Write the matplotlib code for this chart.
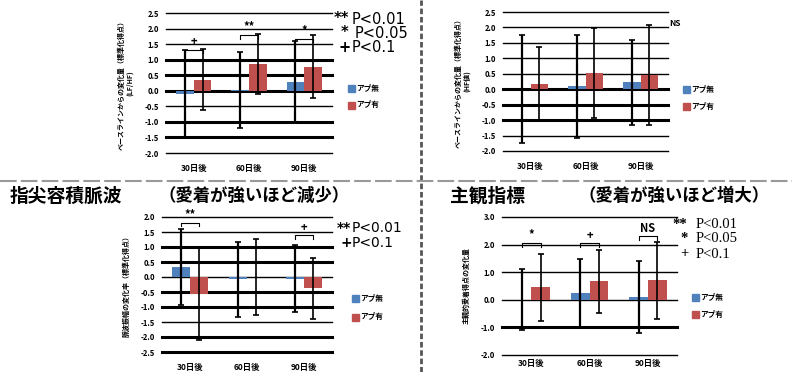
"""
Four-panel bar chart: change from baseline, app absent vs app present,
30/60/90 days. Saves out.png (792x372).
"""

import matplotlib
matplotlib.use("Agg")
import matplotlib.pyplot as plt
import numpy as np

plt.rcParams["font.family"] = ["Noto Sans CJK JP", "DejaVu Sans"]

W, H = 792, 372
BLUE = "#4F81BD"
RED = "#C0504D"

days = ["30日後", "60日後", "90日後"]
legend_labels = ["アプ無", "アプ有"]

# top-left panel
tl_none = [-0.10, 0.02, 0.29]
tl_none_err = [1.40, 1.22, 1.30]
tl_app = [0.35, 0.86, 0.78]
tl_app_err = [0.98, 0.97, 1.02]
tl_ticks = [-2.0, -1.5, -1.0, -0.5, 0.0, 0.5, 1.0, 1.5, 2.0, 2.5]
tl_sig = [(0, "+", 1.32), (1, "**", 1.78), (2, "*", 1.68)]

# top-right panel
tr_none = [0.00, 0.09, 0.22]
tr_none_err = [1.75, 1.66, 1.38]
tr_app = [0.18, 0.52, 0.47]
tr_app_err = [1.20, 1.46, 1.62]
tr_ticks = [-2.0, -1.5, -1.0, -0.5, 0.0, 0.5, 1.0, 1.5, 2.0, 2.5]

# bottom-left panel
bl_none = [0.33, -0.07, -0.05]
bl_none_err = [1.27, 1.25, 1.12]
bl_app = [-0.56, 0.00, -0.38]
bl_app_err = [1.55, 1.26, 1.02]
bl_ticks = [-2.5, -2.0, -1.5, -1.0, -0.5, 0.0, 0.5, 1.0, 1.5, 2.0]
bl_sig = [(0, "**", 1.80), (2, "+", 1.39)]

# bottom-right panel
br_none = [0.00, 0.24, 0.10]
br_none_err = [1.10, 1.23, 1.30]
br_app = [0.45, 0.67, 0.70]
br_app_err = [1.20, 1.14, 1.38]
br_ticks = [-2.0, -1.0, 0.0, 1.0, 2.0, 3.0]
br_sig = [(0, "*", 2.05), (1, "+", 2.05), (2, "NS", 2.30)]

fig = plt.figure(figsize=(W / 100, H / 100), dpi=100)


def px_axes(x0, y0, x1, y1):
    # pixel box (top-left origin) -> figure axes
    return fig.add_axes([x0 / W, 1 - y1 / H, (x1 - x0) / W, (y1 - y0) / H])


def panel(box, none, none_err, app, app_err, ticks, thick, sig, ylabel, xpad=8):
    ax = px_axes(*box)
    x = np.arange(len(days))
    w = 0.32
    for t in ticks:
        ax.axhline(t, color="black", lw=2.2 if t in thick else 1.0,
                   clip_on=False, zorder=1)
    ax.bar(x - w / 2, none, w, color=BLUE, zorder=2)
    ax.bar(x + w / 2, app, w, color=RED, zorder=2)
    ax.errorbar(x - w / 2, none, yerr=none_err, fmt="none", ecolor="black",
                elinewidth=1.6, capsize=2.5, capthick=1.2, zorder=3)
    ax.errorbar(x + w / 2, app, yerr=app_err, fmt="none", ecolor="black",
                elinewidth=1.2, capsize=2.5, capthick=1.2, zorder=3)
    ax.set_xlim(-0.5, 2.5)
    ax.set_ylim(ticks[0], ticks[-1])
    ax.set_yticks(ticks)
    ax.set_yticklabels([f"{t:.1f}" for t in ticks], fontsize=5.5,
                       fontweight="bold")
    ax.set_xticks(x)
    ax.set_xticklabels(days, fontsize=6, fontweight="bold")
    ax.tick_params(length=0, pad=5)
    ax.tick_params(axis="x", pad=xpad)
    for s in ax.spines.values():
        s.set_visible(False)
    span = ticks[-1] - ticks[0]
    for g, mark, h in sig:
        d = span * 0.025
        ax.plot([g - w / 2, g - w / 2, g + w / 2, g + w / 2],
                [h - d, h, h, h - d], color="black", lw=0.8, zorder=4,
                clip_on=False)
        ax.text(g, h + span * 0.012, mark, ha="center", va="bottom",
                fontsize=8, fontweight="bold", clip_on=False)
    ax.set_ylabel(ylabel, fontsize=5, fontweight="bold", labelpad=8)
    return ax


def legend(x, y0, y1):
    for yy, c, lab in [(y0, BLUE, legend_labels[0]), (y1, RED, legend_labels[1])]:
        fig.patches.append(plt.Rectangle((x / W, 1 - (yy + 3.5) / H), 7 / W, 7 / H,
                                         color=c, transform=fig.transFigure))
        fig.text((x + 8) / W, 1 - yy / H, lab, fontsize=5.5, fontweight="bold",
                 va="center")


def ptext(lines, family, size):
    for (xs, xp, y, star, label) in lines:
        fig.text(xs / W, 1 - y / H, star, fontsize=size, fontweight="bold",
                 va="center", ha="left", family=family)
        fig.text(xp / W, 1 - y / H, label, fontsize=size, va="center",
                 ha="left", family=family)


panel((166, 13, 332, 153), tl_none, tl_none_err, tl_app, tl_app_err, tl_ticks,
      [1.0, 0.5, 0.0, -1.0, -1.5], tl_sig,
      "ベースラインからの変化量（標準化得点）\n(LF/HF)")
panel((503, 12, 668, 151), tr_none, tr_none_err, tr_app, tr_app_err, tr_ticks,
      [0.0, -0.5, -1.0], [],
      "ベースラインからの変化量（標準化得点）\n(HF値)")
panel((162, 217, 332, 352), bl_none, bl_none_err, bl_app, bl_app_err, bl_ticks,
      [1.0, 0.5, -0.5, -1.0, -2.0, -2.5], bl_sig,
      "脈波振幅の変化率（標準化得点）")
panel((502, 217, 677, 355), br_none, br_none_err, br_app, br_app_err, br_ticks,
      [-1.0], br_sig,
      "主観的愛着得点の変化量", xpad=3)

legend(348, 88, 105)
legend(683, 89, 106)
legend(352, 298, 317)
legend(692, 297, 314)

ptext([(334, 352, 19, "**", "P<0.01"),
       (341, 355, 33, "*", "P<0.05"),
       (338, 352, 47, "+", "P<0.1")], "DejaVu Sans", 10.5)
ptext([(337, 352, 228, "**", "P<0.01"),
       (340, 352, 243, "+", "P<0.1")], "DejaVu Sans", 10)
ptext([(672, 696, 224, "**", "P<0.01"),
       (680, 696, 239, "*", "P<0.05"),
       (680, 696, 254, "+", "P<0.1")], "Liberation Serif", 10.5)
fig.text(669 / W, 1 - 23 / H, "NS", fontsize=6, fontweight="bold", va="center")

fig.text(10 / W, 1 - 196 / H, "指尖容積脈波", fontsize=13.5, fontweight="bold",
         va="center")
fig.text(158 / W, 1 - 196 / H, "（愛着が強いほど減少）", fontsize=12.5,
         fontweight="bold", va="center")
fig.text(450 / W, 1 - 196 / H, "主観指標", fontsize=13.5, fontweight="bold",
         va="center")
fig.text(578 / W, 1 - 196 / H, "（愛着が強いほど増大）", fontsize=12.5,
         fontweight="bold", va="center")

# panel dividers
fig.add_artist(plt.Line2D([421 / W, 421 / W], [0, 1], color="#555555", lw=2,
                          ls=(0, (2, 1)), transform=fig.transFigure))
fig.add_artist(plt.Line2D([0, 1], [1 - 181 / H, 1 - 181 / H], color="#999999",
                          lw=1.5, ls=(0, (8, 2)), transform=fig.transFigure))

fig.savefig("out.png", dpi=100)
